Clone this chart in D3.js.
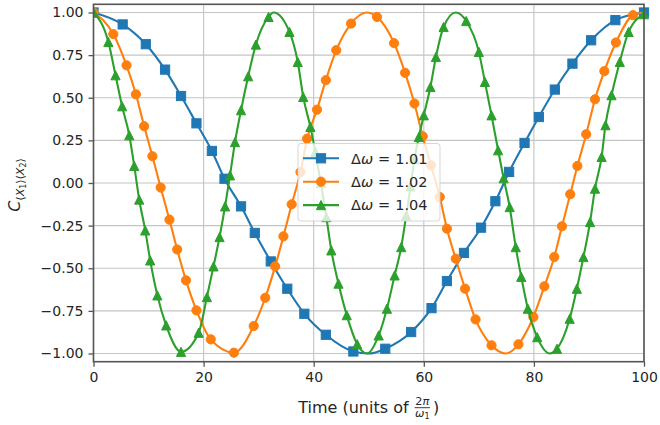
<!DOCTYPE html>
<html>
<head>
<meta charset="utf-8">
<script src="https://d3js.org/d3.v7.min.js"></script>
<style>
  body { margin: 0; background: #fff; }
  text { font-family: "DejaVu Sans", sans-serif; fill: #262626; }
</style>
</head>
<body>
<svg id="chart" width="660" height="425"></svg>
<script>
// tick labels
const xTicks = [0, 20, 40, 60, 80, 100];
const yTicks = [-1, -0.75, -0.5, -0.25, 0, 0.25, 0.5, 0.75, 1];

// legend labels
const labels = ["1.01", "1.02", "1.04"];

// Δω = 1.01 (squares), marker points
const blueT = [0, 5.3, 9.5, 13.0, 15.9, 18.7, 21.5, 23.8, 26.8, 29.3, 32.2, 35.2, 38.3, 42.2, 47.2,
  53.0, 57.7, 61.4, 64.2, 67.3, 70.4, 73.0, 75.5, 78.3, 80.9, 83.8, 87.0, 90.4, 94.8, 100];
const blueV = [1, 0.93, 0.814, 0.665, 0.51, 0.35, 0.188, 0.025, -0.137, -0.293, -0.46, -0.62, -0.767, -0.89, -0.988,
  -0.972, -0.874, -0.734, -0.575, -0.41, -0.262, -0.107, 0.065, 0.235, 0.387, 0.548, 0.70, 0.837, 0.955, 1];
// turning points of the line that carry no marker
const blueExtraT = [50];
const blueExtraV = [-1];

// Δω = 1.02 (circles)
const orangeT = [0, 3.6, 6.0, 7.7, 9.2, 10.7, 12.2, 13.8, 15.2, 16.8, 18.7, 21.3, 25.5, 29.1, 31.2, 33.0,
  34.5, 36.0, 37.6, 38.8, 40.6, 42.2, 44.1, 46.8, 51.5, 54.6, 56.6, 58.3, 59.8, 61.3, 62.9, 64.2,
  65.8, 67.5, 69.4, 72.3, 77.2, 79.9, 81.9, 83.7, 85.1, 86.6, 87.9, 89.5, 91.1, 92.8, 94.9, 98.0];
const orangeV = [1, 0.873, 0.69, 0.52, 0.333, 0.157, -0.027, -0.215, -0.39, -0.571, -0.747, -0.917, -0.995, -0.839, -0.673, -0.489,
  -0.313, -0.125, 0.064, 0.26, 0.43, 0.603, 0.779, 0.935, 0.974, 0.82, 0.646, 0.466, 0.274, 0.104, -0.082, -0.268,
  -0.444, -0.62, -0.80, -0.952, -0.946, -0.786, -0.606, -0.434, -0.254, -0.066, 0.10, 0.286, 0.491, 0.656, 0.824, 0.984];
const orangeExtraT = [49.6, 74.8, 100];
const orangeExtraV = [1, -1, 1];

// Δω = 1.04 (triangles)
const greenT = [0, 2.7, 4.0, 5.2, 6.5, 7.4, 8.3, 9.4, 10.3, 11.6, 13.2, 15.9, 19.1, 20.6, 21.8, 22.9, 23.9,
  24.8, 25.7, 26.8, 28.1, 29.5, 31.8, 35.6, 37.1, 38.1, 39.4, 40.3, 41.3, 42.3, 43.2, 44.5, 46.0, 47.9,
  51.8, 53.3, 54.7, 55.9, 56.8, 57.6, 58.3, 59.1, 60.0, 61.2, 62.2, 63.6, 67.7, 70.0, 71.1, 72.3, 73.5,
  74.5, 75.6, 76.7, 77.7, 78.9, 80.6, 84.2, 86.5, 87.8, 89.0, 90.2, 91.1, 92.3, 93.0, 94.1, 95.6, 97.2, 100];
const greenV = [1, 0.827, 0.632, 0.45, 0.28, 0.10, -0.097, -0.278, -0.454, -0.659, -0.835, -0.99, -0.878, -0.669, -0.489, -0.317, -0.137,
  0.045, 0.24, 0.427, 0.626, 0.812, 0.974, 0.886, 0.71, 0.505, 0.329, 0.182, 0.0, -0.2, -0.395, -0.59, -0.775, -0.945,
  -0.894, -0.737, -0.542, -0.376, -0.19, -0.02, 0.14, 0.27, 0.397, 0.563, 0.739, 0.915, 0.95, 0.769, 0.593, 0.397, 0.192,
  0.028, -0.141, -0.376, -0.55, -0.737, -0.904, -0.972, -0.796, -0.62, -0.434, -0.229, -0.033, 0.153, 0.339, 0.515, 0.71, 0.886, 0.99];
const greenExtraT = [32.7, 49.7, 65.8, 82.9];
const greenExtraV = [1, -1, 1, -1];

const series = [
  {label: labels[0], t: blueT, v: blueV, et: blueExtraT, ev: blueExtraV, color: "#1f77b4", shape: "square"},
  {label: labels[1], t: orangeT, v: orangeV, et: orangeExtraT, ev: orangeExtraV, color: "#ff7f0e", shape: "circle"},
  {label: labels[2], t: greenT, v: greenV, et: greenExtraT, ev: greenExtraV, color: "#2ca02c", shape: "triangle"}
];

let svg = d3.select("svg#chart");
let plot = {"left": 93.5, "right": 644, "top": 4.3, "bottom": 361.7};

let xScale = d3.scaleLinear().domain([0, 100]).range([plot.left, plot.right]);
let yScale = d3.scaleLinear().domain([-1.048, 1.048]).range([plot.bottom, plot.top]);

const spineColor = "#555";
const gridColor = "#c4c4c4";

//grid lines
xTicks.forEach(function(d) {
  svg.append("line")
    .attr("x1", xScale(d)).attr("x2", xScale(d))
    .attr("y1", plot.top).attr("y2", plot.bottom)
    .style("stroke", gridColor).style("stroke-width", 1.1);
});
yTicks.forEach(function(d) {
  svg.append("line")
    .attr("x1", plot.left).attr("x2", plot.right)
    .attr("y1", yScale(d)).attr("y2", yScale(d))
    .style("stroke", gridColor).style("stroke-width", 1.1);
});

//x axis
let xAxis = d3.axisBottom(xScale).tickValues(xTicks).tickSize(5).tickPadding(5).tickSizeOuter(0);
let gx = svg.append("g")
  .attr("transform", "translate(0," + plot.bottom + ")")
  .call(xAxis);

//y axis
let yAxis = d3.axisLeft(yScale).tickValues(yTicks).tickSize(5).tickPadding(5).tickSizeOuter(0)
  .tickFormat(d3.format(".2f"));
let gy = svg.append("g")
  .attr("transform", "translate(" + plot.left + ",0)")
  .call(yAxis);

[gx, gy].forEach(function(g) {
  g.select(".domain").remove();
  g.selectAll(".tick line").style("stroke", spineColor).style("stroke-width", 1.3);
  g.selectAll(".tick text").style("font-size", "14px").style("fill", "#262626")
    .style("font-family", "'DejaVu Sans', sans-serif");
});

//clip for the curves
svg.append("clipPath").attr("id", "clip")
  .append("rect")
  .attr("x", plot.left).attr("y", plot.top - 10)
  .attr("width", plot.right - plot.left + 8).attr("height", plot.bottom - plot.top + 20);

const markerSize = 9.2;
function drawMarker(g, shape, cx, cy, color, s) {
  let h = s / 2;
  if (shape === "square") {
    g.append("rect").attr("x", cx - h).attr("y", cy - h).attr("width", s).attr("height", s)
      .style("fill", color).style("stroke", color).style("stroke-width", 1);
  } else if (shape === "circle") {
    g.append("circle").attr("cx", cx).attr("cy", cy).attr("r", h)
      .style("fill", color).style("stroke", color).style("stroke-width", 1);
  } else {
    g.append("path")
      .attr("d", "M" + cx + "," + (cy - h) + "L" + (cx - h) + "," + (cy + h) + "L" + (cx + h) + "," + (cy + h) + "Z")
      .style("fill", color).style("stroke", color).style("stroke-width", 1).style("stroke-linejoin", "miter");
  }
}

let line = d3.line()
  .x(d => xScale(d[0]))
  .y(d => yScale(d[1]))
  .curve(d3.curveMonotoneX);

//draw each series: line, then its markers
series.forEach(function(s) {
  let pts = s.t.map((t, i) => [t, s.v[i]]).concat(s.et.map((t, i) => [t, s.ev[i]]));
  pts.sort((a, b) => a[0] - b[0]);
  let g = svg.append("g").attr("clip-path", "url(#clip)");
  g.append("path")
    .attr("d", line(pts))
    .style("fill", "none")
    .style("stroke", s.color)
    .style("stroke-width", 2.1)
    .style("stroke-linejoin", "round")
    .style("stroke-linecap", "square");
  s.t.forEach(function(t, i) {
    drawMarker(g, s.shape, xScale(t), yScale(s.v[i]), s.color, markerSize);
  });
});

//spines
svg.append("rect")
  .attr("x", plot.left).attr("y", plot.top)
  .attr("width", plot.right - plot.left).attr("height", plot.bottom - plot.top)
  .style("fill", "none").style("stroke", spineColor).style("stroke-width", 1.6);

//legend
let legend = svg.append("g");
legend.append("rect")
  .attr("x", 298).attr("y", 143.5).attr("width", 142).attr("height", 77.5)
  .attr("rx", 3).attr("ry", 3)
  .style("fill", "white").style("fill-opacity", 0.8)
  .style("stroke", "#cccccc").style("stroke-opacity", 0.8).style("stroke-width", 1);

series.forEach(function(s, i) {
  let ly = 158.3 + i * 23.4;
  legend.append("line")
    .attr("x1", 303).attr("x2", 339).attr("y1", ly).attr("y2", ly)
    .style("stroke", s.color).style("stroke-width", 2.1);
  drawMarker(legend, s.shape, 321, ly, s.color, markerSize);
  let txt = legend.append("text")
    .attr("x", 351).attr("y", ly + 5.2)
    .style("font-size", "14.5px");
  txt.append("tspan").text("Δ");
  txt.append("tspan").style("font-style", "italic").text("ω");
  txt.append("tspan").attr("dx", 5).text("=");
  txt.append("tspan").attr("dx", 5).text(s.label);
});

//y label
let ylab = svg.append("text")
  .attr("transform", "translate(20,185) rotate(-90)")
  .attr("text-anchor", "middle")
  .style("font-size", "16px");
ylab.append("tspan").style("font-style", "italic").text("C");
ylab.append("tspan").attr("dy", 3.5).style("font-size", "11px").text("⟨");
ylab.append("tspan").style("font-size", "11px").style("font-style", "italic").text("X");
ylab.append("tspan").attr("dy", 2).style("font-size", "8px").text("1");
ylab.append("tspan").attr("dy", -2).style("font-size", "11px").text("⟩⟨");
ylab.append("tspan").style("font-size", "11px").style("font-style", "italic").text("X");
ylab.append("tspan").attr("dy", 2).style("font-size", "8px").text("2");
ylab.append("tspan").attr("dy", -2).style("font-size", "11px").text("⟩");

//x label with the 2π/ω1 fraction
let xlab = svg.append("g");
let base = 412.7;
let t1 = xlab.append("text").attr("y", base).style("font-size", "16px").text("Time (units of");
let w1 = t1.node().getComputedTextLength() + 6;
let num = xlab.append("text").attr("y", base - 7.5).attr("text-anchor", "middle").style("font-size", "11.2px");
num.append("tspan").text("2");
num.append("tspan").style("font-style", "italic").text("π");
let den = xlab.append("text").attr("y", base + 4).attr("text-anchor", "middle").style("font-size", "11.2px");
den.append("tspan").style("font-style", "italic").text("ω");
den.append("tspan").attr("dy", 1.8).style("font-size", "8px").text("1");
let fw = Math.max(num.node().getComputedTextLength(), den.node().getComputedTextLength()) + 1;
let t2 = xlab.append("text").attr("y", base).style("font-size", "16px").text(")");
let w2 = t2.node().getComputedTextLength();
let gap = 3;
let total = w1 + fw + gap + w2;
let x0 = (plot.left + plot.right) / 2 - total / 2;
t1.attr("x", x0);
num.attr("x", x0 + w1 + fw / 2);
den.attr("x", x0 + w1 + fw / 2);
xlab.append("line")
  .attr("x1", x0 + w1).attr("x2", x0 + w1 + fw)
  .attr("y1", base - 5).attr("y2", base - 5)
  .style("stroke", "#262626").style("stroke-width", 0.9);
t2.attr("x", x0 + w1 + fw + gap);
</script>
</body>
</html>
